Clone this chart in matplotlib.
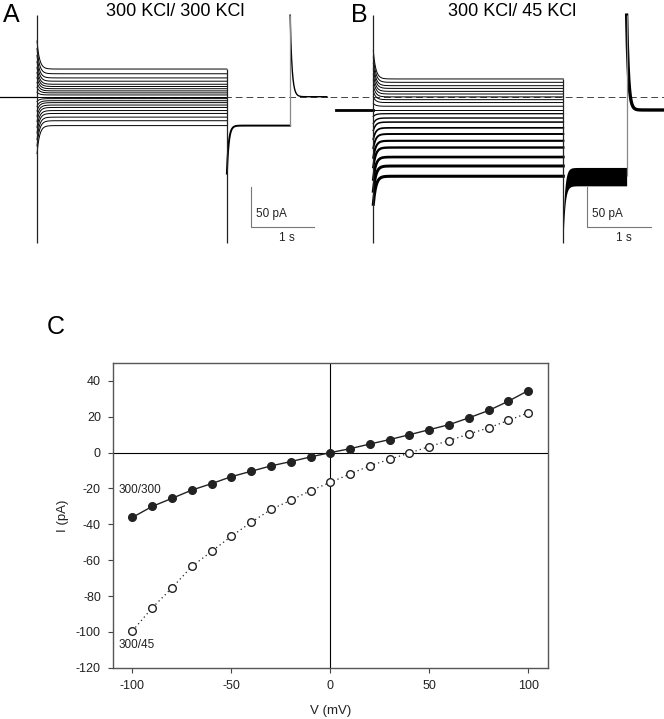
import numpy as np
import matplotlib
matplotlib.use('Agg')
import matplotlib.pyplot as plt

plt.rcParams['font.family'] = ['Liberation Sans', 'DejaVu Sans']
plt.rcParams['axes.unicode_minus'] = False

# --- data ---
voltage = [-100, -90, -80, -70, -60, -50, -40, -30, -20, -10, 0,
           10, 20, 30, 40, 50, 60, 70, 80, 90, 100]
i_300_300 = [-36.1, -30.0, -25.5, -20.9, -17.3, -13.4, -10.4, -7.4, -5.0, -2.4, 0.0,
             2.2, 4.8, 7.3, 10.0, 12.8, 15.6, 19.4, 23.5, 28.7, 34.6]
i_300_45 = [-99.4, -86.6, -75.4, -63.5, -55.1, -46.6, -38.9, -31.7, -26.6, -21.2, -16.6,
            -11.9, -7.3, -3.7, -0.2, 3.4, 6.7, 10.4, 13.8, 18.0, 22.2]

panel_titles = ["300 KCl/ 300 KCl", "300 KCl/ 45 KCl"]

# protocol timing (s): step at 0, tail to -100 mV at 3, back to 0 mV at 4
T_STEP, T_TAIL, T_END = 0.0, 3.0, 4.0

W, H = 664, 719
fig = plt.figure(figsize=(W / 100, H / 100), dpi=100)


def fx(px):
    return px / W


def fy(py):
    return 1 - py / H


def draw_traces(ax, levels, noisy):
    hold = levels[voltage.index(0)]
    tail = levels[0]
    t_pre = np.linspace(-0.585, T_STEP, 20)
    t_step = np.linspace(T_STEP, T_TAIL, 600)
    t_tail = np.linspace(T_TAIL, T_END, 300)
    t_post = np.linspace(T_END, 4.58, 200)
    tau = 0.04
    k = 0.35  # capacitive transient pA per mV
    ax.axhline(0, color='#444444', lw=0.7, ls=(0, (7, 4)), zorder=1)
    ax.plot(t_pre, np.full_like(t_pre, hold), color='k', lw=2.0 if noisy else 0.9)
    for v, lev in zip(voltage, levels):
        lw = 0.7
        if noisy and lev < -20:
            lw = 0.9 + 1.3 * min(1.0, (-lev - 20) / 70)
        y = lev + k * v * np.exp(-(t_step - T_STEP) / tau)
        ax.plot(t_step, y, color='k', lw=lw, zorder=3)
    # tail at -100 mV
    yt = tail - 60 * np.exp(-(t_tail - T_TAIL) / 0.03)
    if noisy:
        ax.fill_between(t_tail, yt - 12, yt + 11, color='k', lw=0, zorder=3)
    else:
        ax.plot(t_tail, yt, color='k', lw=1.4, zorder=3)
    # back to holding
    yp = hold + (102 - hold) * np.exp(-(t_post - T_END) / 0.03)
    ax.plot(t_post, yp, color='k', lw=2.4 if noisy else 1.0, zorder=3)
    # clipped capacitive spikes
    ax.vlines([T_STEP, T_TAIL], [-183, -183], [102, max(levels)],
              color='#222222', lw=0.9, zorder=3)
    ax.vlines(T_END, tail, 102, color='#888888', lw=0.9, zorder=3)
    # scale bars
    ax.plot([3.38, 3.38, 4.38], [-112.5, -162.5, -162.5], color='#777777', lw=0.8)
    ax.text(3.46, -147, "50 pA", fontsize=8.5, va='center', ha='left', color='#222222')
    ax.text(3.95, -177, "1 s", fontsize=8.5, va='center', ha='center', color='#222222')


# panel A
axA = fig.add_axes([fx(0), fy(260), fx(330), 260 / H])
axA.set_xlim(-0.585, 4.63)
axA.set_ylim(-204.1, 120.9)
axA.axis('off')
draw_traces(axA, i_300_300, noisy=False)

# panel B
axB = fig.add_axes([fx(330), fy(260), fx(334), 260 / H])
axB.set_xlim(-0.684, 4.59)
axB.set_ylim(-204.1, 120.9)
axB.axis('off')
draw_traces(axB, i_300_45, noisy=True)

fig.text(fx(3), fy(13), "A", fontsize=18, va='center_baseline', ha='left')
fig.text(fx(351), fy(13), "B", fontsize=18, va='center_baseline', ha='left')
fig.text(fx(175), fy(9), panel_titles[0], fontsize=13, va='center_baseline', ha='center')
fig.text(fx(512), fy(9), panel_titles[1], fontsize=13, va='center_baseline', ha='center')
fig.text(fx(47), fy(324), "C", fontsize=18, va='center_baseline', ha='left')

# panel C: I-V curves
axC = fig.add_axes([fx(112.7), fy(667.7), fx(548 - 112.7), (667.7 - 363) / H])
axC.axhline(0, color='k', lw=0.8, zorder=1)
axC.axvline(0, color='k', lw=0.8, zorder=1)
axC.plot(voltage, i_300_300, color='#222222', lw=1.0, marker='o', ms=5.5,
         mfc='#222222', mec='#222222', zorder=3)
axC.plot(voltage, i_300_45, color='#222222', lw=0.9, ls=(0, (1, 2.5)), marker='o', ms=5.5,
         mfc='white', mec='#222222', mew=1.0, zorder=3)
axC.text(-107, -21, "300/300", fontsize=8.5, va='center', ha='left', color='#222222')
axC.text(-107, -107.5, "300/45", fontsize=8.5, va='center', ha='left', color='#222222')
axC.set_xlim(-110, 110)
axC.set_ylim(-120, 50)
axC.set_xticks([-100, -50, 0, 50, 100])
axC.set_yticks(range(-120, 41, 20))
axC.tick_params(direction='out', length=3.5, width=0.8, labelsize=9,
                colors='#444444', labelcolor='#222222', pad=5)
for s in axC.spines.values():
    s.set_color('#555555')
    s.set_linewidth(1.0)
axC.set_xlabel("V (mV)", fontsize=9.5, labelpad=10, color='#222222')
axC.set_ylabel("I (pA)", fontsize=9.5, labelpad=5, color='#222222')

fig.savefig("out.png", dpi=100)
